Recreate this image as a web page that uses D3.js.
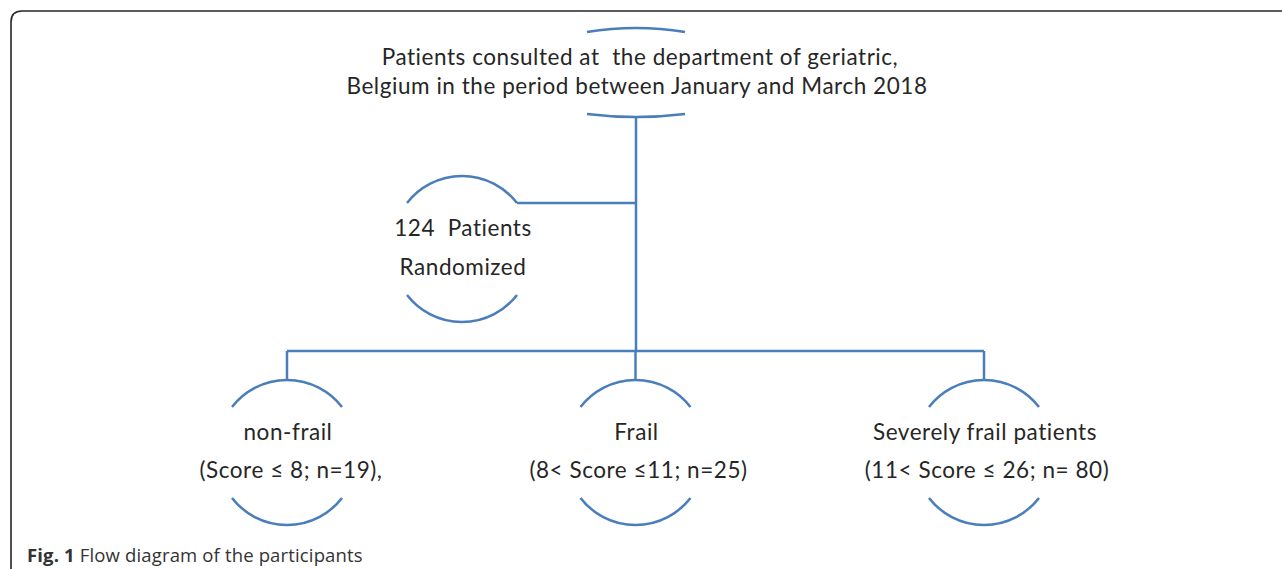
<!DOCTYPE html>
<html>
<head>
<meta charset="utf-8">
<script src="https://cdn.jsdelivr.net/npm/d3@7"></script>
<style>
  html, body { margin: 0; padding: 0; background: #fff; }
  svg { display: block; }
</style>
</head>
<body>
<svg id="chart" width="1282" height="569"></svg>
<script>
// ---- data ----
const sourceLines = ["Patients consulted at  the department of geriatric,",
                     "Belgium in the period between January and March 2018"];
const randomizedLines = ["124  Patients", "Randomized"];
const groups = ["non-frail", "Frail", "Severely frail patients"];
const groupCriteria = ["(Score \u2264 8; n=19),", "(8< Score \u226411; n=25)", "(11< Score \u2264 26; n= 80)"];
const captionBold = "Fig. 1";
const captionText = " Flow diagram of the participants";

// ---- layout ----
const W = 1282, H = 569;
const blue = "#4a7ebb";
const svg = d3.select("#chart");

// frame
const frame = d3.path();
frame.moveTo(11, H);
frame.lineTo(11, 22);
frame.quadraticCurveTo(11, 11, 22, 11);
frame.lineTo(W, 11);
svg.append("path").attr("d", frame.toString())
  .attr("fill", "none").attr("stroke", "#262626").attr("stroke-width", 1.6);

const g = svg.append("g").attr("fill", "none").attr("stroke", blue).attr("stroke-width", 2.5);

// arc helpers: top cap (peak at y) and bottom cap (lowest at y)
function capTop(cx, y, half, sag) {
  const r = (half * half + sag * sag) / (2 * sag);
  return `M${cx - half},${y + sag} A${r},${r} 0 0 1 ${cx + half},${y + sag}`;
}
function capBottom(cx, y, half, sag) {
  const r = (half * half + sag * sag) / (2 * sag);
  return `M${cx - half},${y - sag} A${r},${r} 0 0 0 ${cx + half},${y - sag}`;
}

const cx = 636;
// top node caps (flat arcs)
g.append("path").attr("d", capTop(cx, 28, 49, 4));
g.append("path").attr("d", capBottom(cx, 117, 49, 3));

// bottom group positions via point scale
const xScale = d3.scalePoint().domain(groups).range([287, 984]);
const branchY = 351, nodeTop = 380, nodeBottom = 525;

// main trunk
g.append("line").attr("x1", cx).attr("y1", 117).attr("x2", cx).attr("y2", branchY);
// side branch to randomized node
const rx = 462;
g.append("line").attr("x1", rx + 55).attr("y1", 203).attr("x2", cx).attr("y2", 203);
g.append("path").attr("d", capTop(rx, 176, 55, 27));
g.append("path").attr("d", capBottom(rx, 322, 55, 27));

// horizontal branch
g.append("line").attr("x1", xScale(groups[0])).attr("y1", branchY)
  .attr("x2", xScale(groups[groups.length - 1])).attr("y2", branchY);
groups.forEach(name => {
  const x = xScale(name);
  g.append("line").attr("x1", x).attr("y1", branchY).attr("x2", x).attr("y2", nodeTop);
  g.append("path").attr("d", capTop(x, nodeTop, 55, 27));
  g.append("path").attr("d", capBottom(x, nodeBottom, 55, 27));
});

// ---- text ----
const font = "Lato, 'Open Sans', sans-serif";
const t = svg.append("g").attr("fill", "#262626").attr("font-family", font)
  .attr("text-anchor", "middle").attr("font-size", 22.5).attr("letter-spacing", 0.55);

t.selectAll("text.src").data(sourceLines).join("text")
  .attr("class", "src")
  .attr("x", (d, i) => i === 0 ? 640 : 637).attr("y", (d, i) => 65 + i * 29)
  .style("white-space", "pre").text(d => d);

t.selectAll("text.rnd").data(randomizedLines).join("text")
  .attr("class", "rnd")
  .attr("x", rx + 1).attr("y", (d, i) => 236 + i * 39)
  .style("white-space", "pre").text(d => d);

t.selectAll("text.grp").data(groups).join("text")
  .attr("class", "grp")
  .attr("x", d => xScale(d) + 1).attr("y", 440)
  .text(d => d);

t.selectAll("text.crit").data(groupCriteria).join("text")
  .attr("class", "crit")
  .attr("x", (d, i) => xScale(groups[i]) + (i === 0 ? 4 : 3)).attr("y", 478)
  .text(d => d);

// caption
const cap = svg.append("text").attr("x", 27).attr("y", 562)
  .attr("font-family", "'Open Sans', sans-serif").attr("font-size", 18.5).attr("fill", "#333")
  .attr("letter-spacing", 0.15)
  .style("white-space", "pre");
cap.append("tspan").attr("font-weight", "bold").text(captionBold);
cap.append("tspan").text(captionText);
</script>
</body>
</html>
